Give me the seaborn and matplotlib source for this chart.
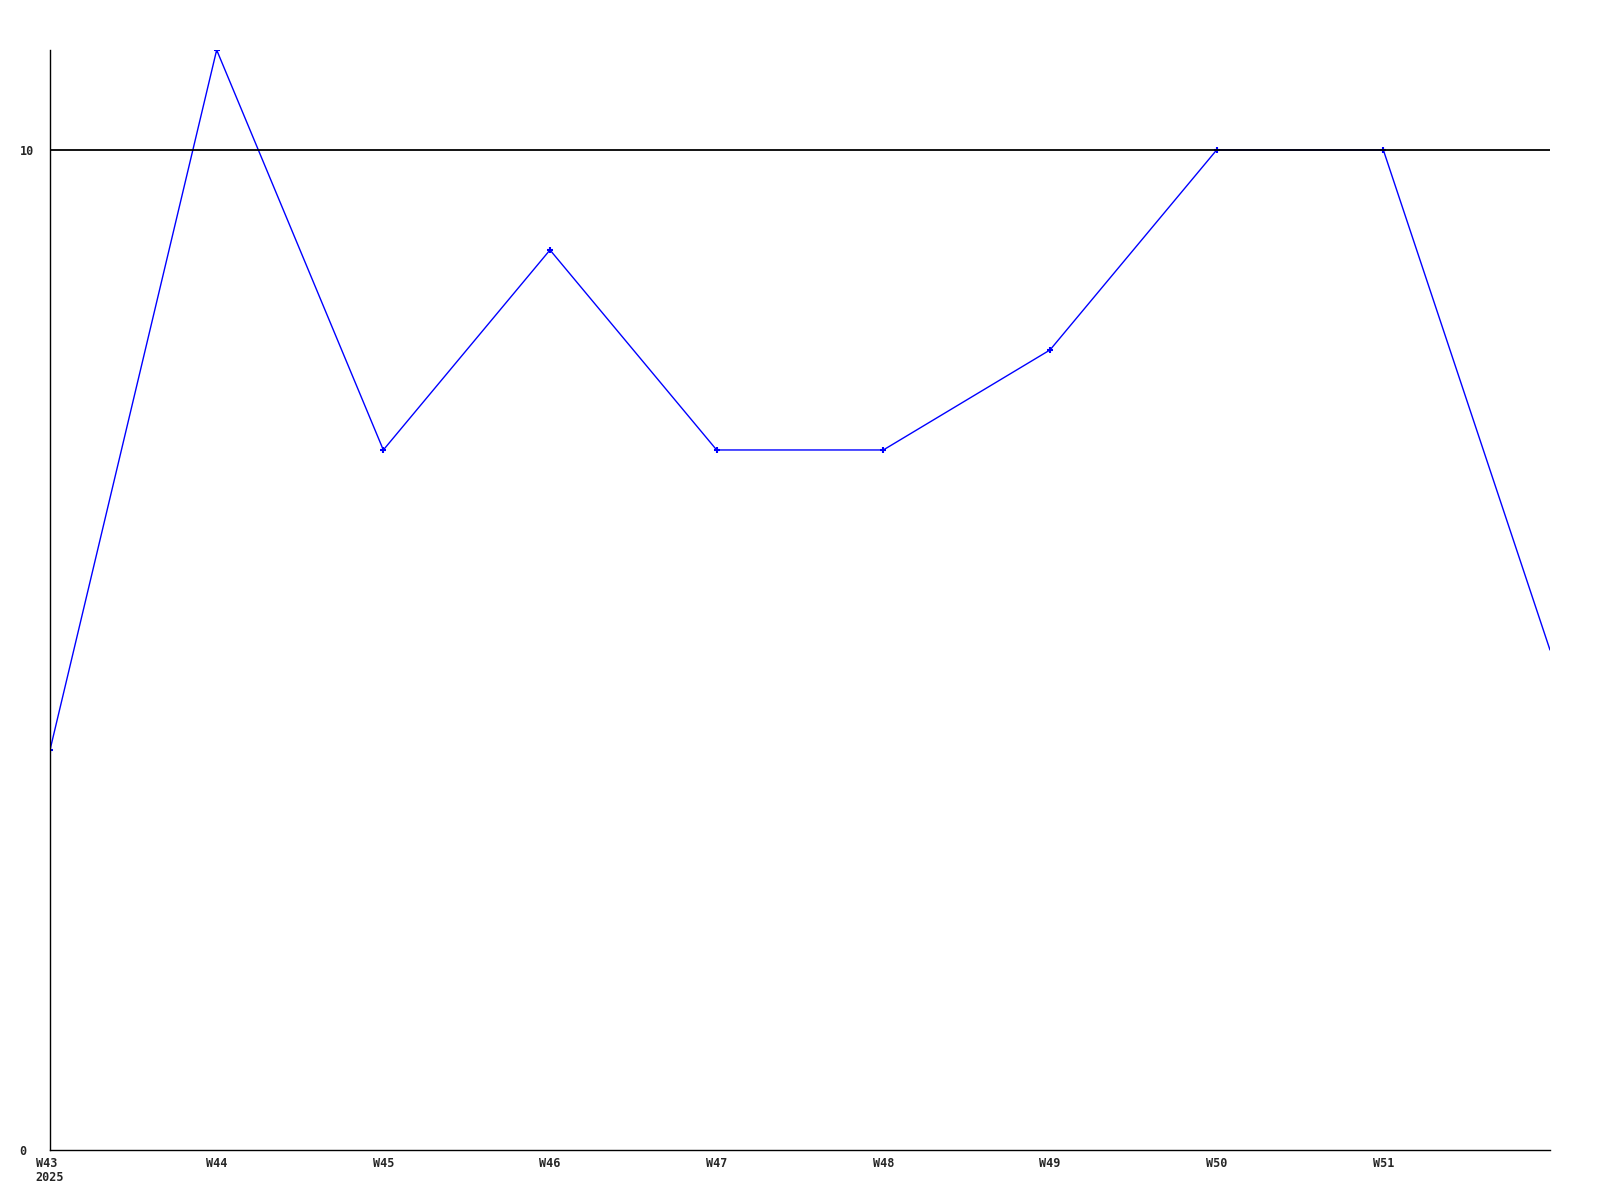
import pandas as pd
import matplotlib
matplotlib.use('Agg')
import matplotlib.pyplot as plt
import seaborn as sns

# weekly counts
weeks = ['W43', 'W44', 'W45', 'W46', 'W47', 'W48', 'W49', 'W50', 'W51', 'W52']
values = [4, 11, 7, 9, 7, 7, 8, 10, 10, 5]
tick_labels = ['W43\n2025', 'W44', 'W45', 'W46', 'W47', 'W48', 'W49', 'W50', 'W51']
y_ticks = [0, 10]

df = pd.DataFrame({'pos': range(len(weeks)), 'week': weeks, 'value': values})

sns.set_style('white')
plt.rcParams['font.family'] = ['DejaVu Sans Mono']
plt.rcParams['font.weight'] = 'bold'

fig = plt.figure(figsize=(16, 12), dpi=100)
ax = fig.add_axes([0.03125, 0.04167, 0.9375, 0.9167])

# last point sits on the right edge, no marker there
sns.lineplot(data=df, x='pos', y='value', ax=ax, color='#0000ff', linewidth=1,
             marker='+', markersize=5, markeredgewidth=1.5, markeredgecolor='#0000ff',
             markevery=list(range(len(weeks) - 1)), zorder=2)

ax.set_xlim(0, len(weeks) - 1)
ax.set_ylim(0, 11)
ax.set_xticks(range(len(tick_labels)))
ax.set_xticklabels(tick_labels, fontsize=8.5, fontweight='bold', linespacing=1.15,
                   multialignment='left')
ax.set_yticks(y_ticks)
ax.set_yticklabels([str(v) for v in y_ticks], fontsize=8.5, fontweight='bold', ha='left')
ax.tick_params(axis='x', length=0, pad=5)
ax.tick_params(axis='y', length=0, pad=22)
ax.set_xlabel('')
ax.set_ylabel('')

# horizontal grid line at 10, drawn over the data line
ax.axhline(10, color='black', linewidth=1.3, zorder=3)

for side in ['top', 'right']:
    ax.spines[side].set_visible(False)
for side in ['left', 'bottom']:
    ax.spines[side].set_color('black')
    ax.spines[side].set_linewidth(1)

fig.savefig('out.png', dpi=100, facecolor='white')
